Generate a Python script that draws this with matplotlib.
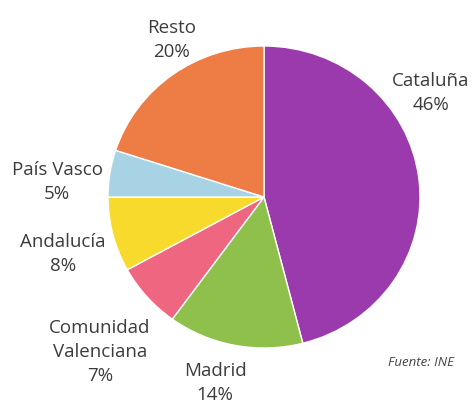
import matplotlib
matplotlib.use("Agg")
import matplotlib.pyplot as plt

regions = ["Cataluña", "Madrid", "Comunidad\nValenciana", "Andalucía", "País Vasco", "Resto"]
shares = [46, 14, 7, 8, 5, 20]
colors = ["#9B3AAD", "#8EC04B", "#EF6680", "#F7DA2C", "#A8D3E4", "#EE7C45"]
# label anchor positions (pixels, center of text block) for each region
label_pos = [(431, 93), (215, 383), (100, 352), (63, 254), (57, 182), (172, 40)]

W, H = 474, 405
fig = plt.figure(figsize=(W / 100, H / 100), dpi=100)
fig.patch.set_facecolor("white")

cx, cy, rx, ry = 264, 197, 156, 151
ax = fig.add_axes([(cx - rx) / W, (H - cy - ry) / H, 2 * rx / W, 2 * ry / H])
ax.pie(shares, colors=colors, startangle=90, counterclock=False, radius=1,
       wedgeprops=dict(edgecolor="white", linewidth=1.0))
ax.set_xlim(-1, 1)
ax.set_ylim(-1, 1)
ax.set_aspect("auto")
ax.axis("off")

font = ["Open Sans", "DejaVu Sans"]
for name, val, (px, py) in zip(regions, shares, label_pos):
    fig.text(px / W, 1 - py / H, f"{name}\n{val}%", ha="center", va="center",
             fontsize=13.5, color="#3c3c3c", family=font,
             linespacing=1.4)

fig.text(421 / W, 1 - 363 / H, "Fuente: INE", ha="center", va="center",
         fontsize=9.5, style="italic", color="#444444", family=font)

fig.savefig("out.png", dpi=100, facecolor="white")
